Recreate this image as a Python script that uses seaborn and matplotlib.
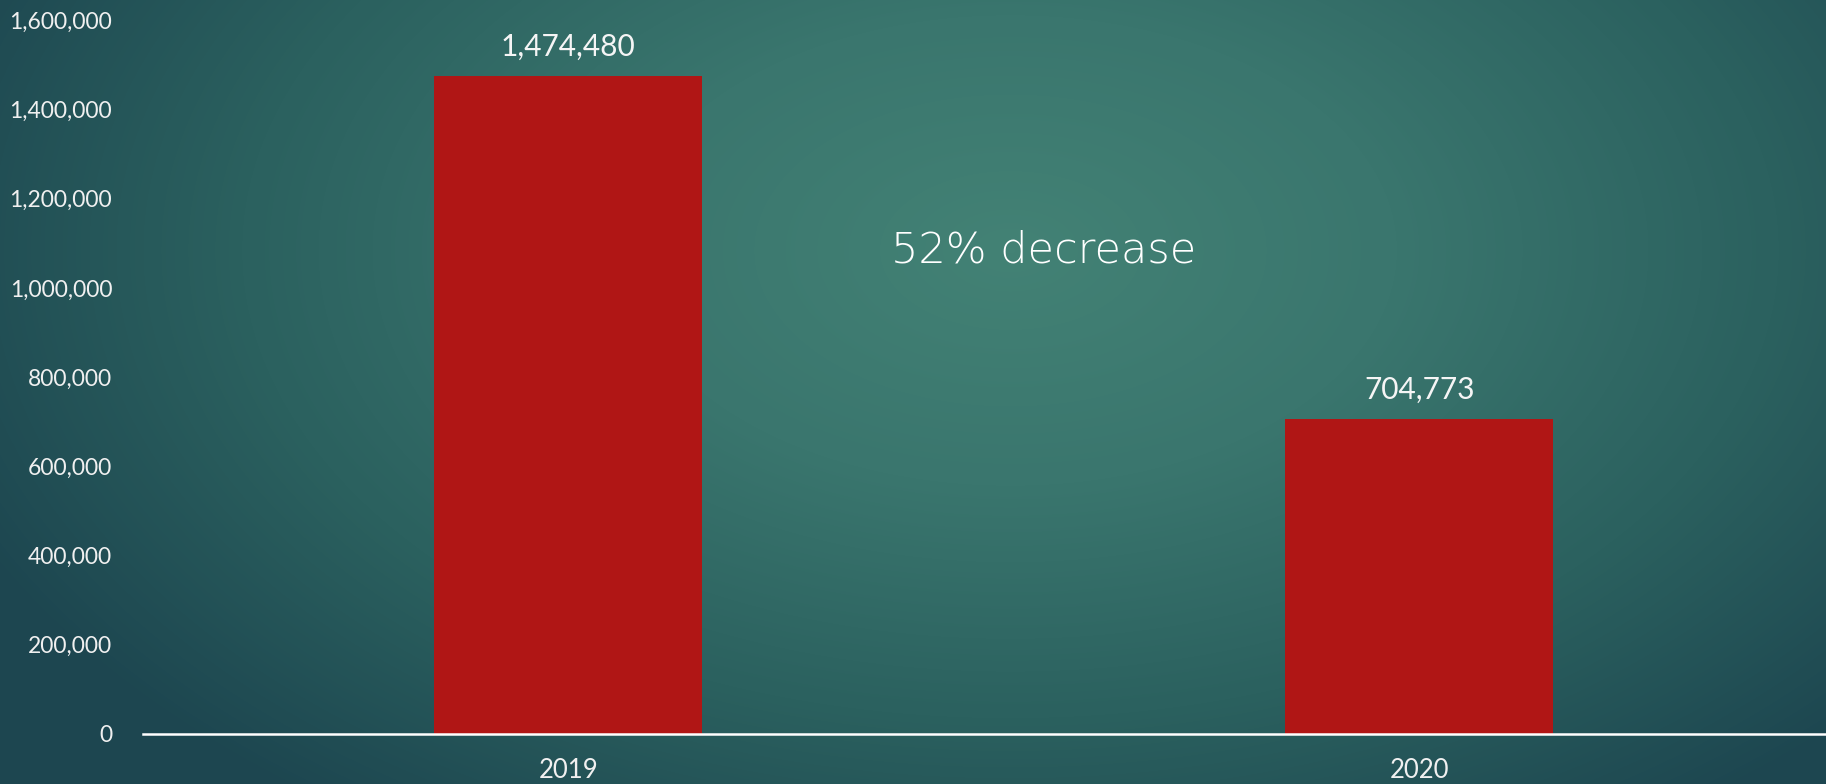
import numpy as np
import pandas as pd
import matplotlib
matplotlib.use("Agg")
import matplotlib.pyplot as plt
import seaborn as sns
from matplotlib.colors import LinearSegmentedColormap
from matplotlib.ticker import FuncFormatter

years = ["2019", "2020"]
values = [1474480, 704773]
annotation = "52% decrease"
yticks = [0, 200000, 400000, 600000, 800000, 1000000, 1200000, 1400000, 1600000]

sns.set_theme(style="white")
plt.rcParams['font.family'] = ['Lato', 'DejaVu Sans']

W, H = 1826, 784
fig = plt.figure(figsize=(W / 100, H / 100), dpi=100)

# background radial gradient
bg = fig.add_axes([0, 0, 1, 1], zorder=0)
yy, xx = np.mgrid[0:H, 0:W]
cx, cy = 1010, 250
d = np.sqrt(((xx - cx) / 1150.0) ** 2 + ((yy - cy) / 700.0) ** 2)
d = np.clip(d, 0, 1)
cmap_bg = LinearSegmentedColormap.from_list("bg", ["#438275", "#3a766e", "#2b615f", "#1d4650"])
bg.imshow(d, cmap=cmap_bg, aspect="auto", extent=[0, W, H, 0], vmin=0, vmax=1)
bg.axis("off")

ax = fig.add_axes([142.7 / W, 50.5 / H, 1702 / W, (734 - 21) / H], zorder=1)
ax.patch.set_alpha(0)
df = pd.DataFrame({"year": years, "value": values})
sns.barplot(data=df, x="year", y="value", color="#b01615", width=0.315,
            saturation=1, ax=ax, edgecolor="none")
ax.set_ylim(0, 1600000)
ax.set_yticks(yticks)
ax.yaxis.set_major_formatter(FuncFormatter(lambda v, p: f"{int(v):,}"))
ax.set_xlabel("")
ax.set_ylabel("")
for s in ["top", "right", "left"]:
    ax.spines[s].set_visible(False)
ax.spines["bottom"].set_color("white")
ax.spines["bottom"].set_linewidth(1.8)
ax.tick_params(axis="y", length=0, pad=22, labelsize=16.5, labelcolor="#f0f0f0")
ax.tick_params(axis="x", length=0, pad=18, labelsize=18.5, labelcolor="#f0f0f0")
ax.grid(False)

for i, v in enumerate(values):
    ax.annotate(f"{v:,}", (i, v), xytext=(0, 11), textcoords="offset points",
                ha="center", va="bottom", fontsize=21.5, color="#f5f5f5")

fig.text(1044 / W, 1 - 250 / H, annotation, ha="center", va="center",
         fontsize=31, color="white", family=["DejaVu Sans"], fontweight="light")

fig.savefig("out.png", dpi=100)
